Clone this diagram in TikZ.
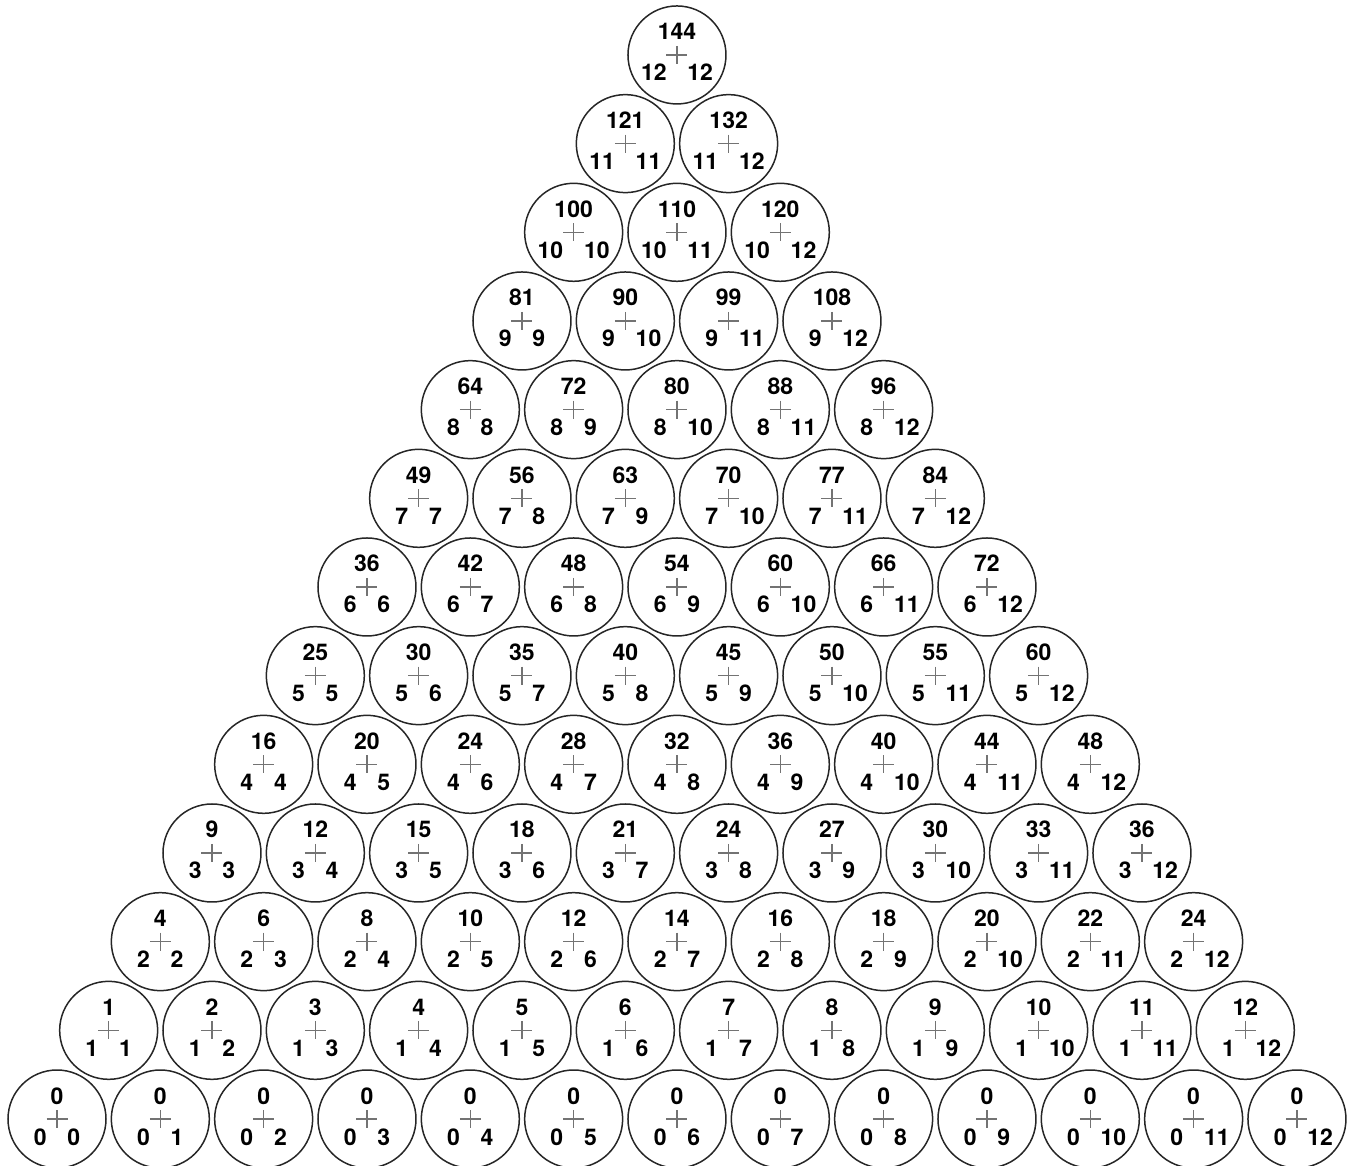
\documentclass[tikz,border=0pt]{standalone}
\usepackage{fontspec}
\setmainfont{TeX Gyre Heros}
\begin{document}
\begin{tikzpicture}[x=0.5pt, y=-0.5pt,
		font=\fontsize{11.5}{13}\selectfont\bfseries,
		cell/.style={circle, draw=black!85, line width=0.75pt, minimum size=49pt, inner sep=0pt},
		num/.style={inner sep=0pt, text=black},
		cross/.style={black!55, line width=0.75pt}]
	\useasboundingbox (0,0) rectangle (1351,1166);
	% Rows of the table, i from the bottom
	\foreach \i in {0,...,12}{
		\foreach \j in {\i,...,12}{
			\pgfmathtruncatemacro{\val}{\i*\j}
			\node[cell] (c\i-\j) at ({57+(\j-\i/2)*103.33}, {1119-\i*88.67}) {};
			% Cross in the middle
			\draw[cross] ([xshift=-5.25pt]c\i-\j.center) -- ([xshift=5.25pt]c\i-\j.center);
			\draw[cross] ([yshift=4.5pt]c\i-\j.center) -- ([yshift=-4.5pt]c\i-\j.center);
			% Product and factors
			\node[num, anchor=base] (p\i-\j) at ([shift={(0,-15)}]c\i-\j.center) {\val};
			\node[num, anchor=base east] (a\i-\j) at ([shift={(-10,26)}]c\i-\j.center) {\i};
			\node[num, anchor=base west] (b\i-\j) at ([shift={(10,26)}]c\i-\j.center) {\j};
		}
	}
\end{tikzpicture}
\end{document}
